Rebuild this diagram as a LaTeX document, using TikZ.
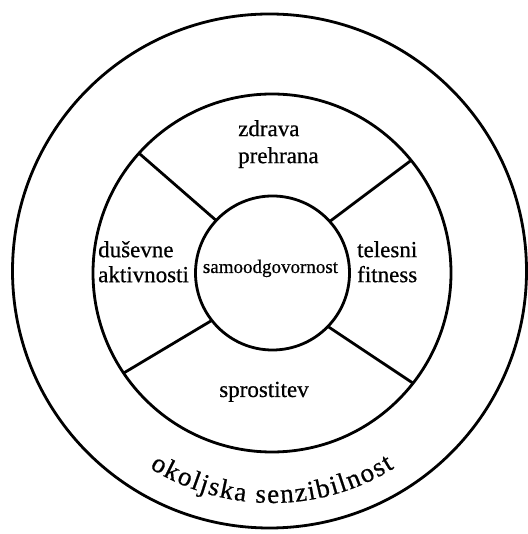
\documentclass[tikz,border=0pt]{standalone}
\usepackage{fontspec}
\setmainfont[FakeBold=0.6]{Liberation Serif}
\usetikzlibrary{decorations.text}
\begin{document}
\begin{tikzpicture}[x=1pt,y=1pt,
  ring/.style={circle, draw, line width=2.8pt, inner sep=0pt, outer sep=0pt, minimum size=#1},
  spoke/.style={line width=2.8pt},
  lab/.style={font=\fontsize{23}{#1}\selectfont, align=left, inner sep=0pt},
  lab/.default=26]
\useasboundingbox (0,0) rectangle (527,534);
\node[ring=514pt] (outer) at (269.5,263) {};
\node[ring=358pt] (mid) at (272,261) {};
\node[ring=154pt] (inner) at (272.5,261) {};
\draw[spoke] (inner.42) -- (mid.39);
\draw[spoke] (inner.137) -- (mid.138);
\draw[spoke] (inner.218) -- (mid.214);
\draw[spoke] (inner.316) -- (mid.322);
\node[lab=27, anchor=north west] (zp) at (238,414) {zdrava\\prehrana};
\node[lab=25, anchor=north west] (da) at (98,293) {duševne\\aktivnosti};
\node[lab=25, anchor=north west] (tf) at (357,293) {telesni\\fitness};
\node[font=\fontsize{19}{22}\selectfont, inner sep=0pt, anchor=base] (sa) at (270.5,261) {samoodgovornost};
\node[lab, anchor=base] (sp) at (264,137) {sprostitev};
\coordinate (c) at (272,262);
\begin{scope}
\fontsize{27}{27}\selectfont
\path[shift={(c)}, decorate, decoration={text along path,
  text={|\fontsize{27}{27}\selectfont|okoljska senzibilnost},
  text align=fit to path}] (238:231) arc[start angle=238, end angle=302, radius=231];
\end{scope}
\end{tikzpicture}
\end{document}
